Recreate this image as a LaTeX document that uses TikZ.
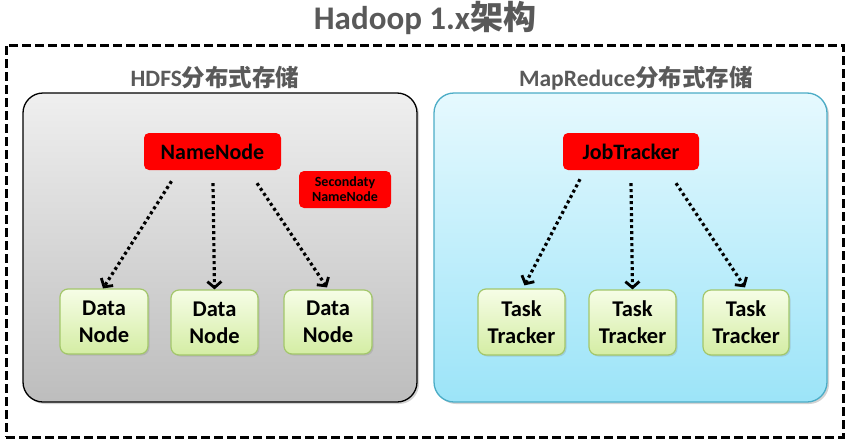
\documentclass[tikz,border=0pt]{standalone}
\usepackage{fontspec}
\setmainfont{Carlito}
\newfontfamily\cjk{Noto Sans CJK SC}
\usetikzlibrary{arrows.meta,shadows}
\definecolor{titlegray}{HTML}{595959}
\definecolor{hdfstop}{HTML}{EFEFEF}
\definecolor{hdfsbot}{HTML}{BDBDBD}
\definecolor{mrtop}{HTML}{E6F9FE}
\definecolor{mrbot}{HTML}{9CE4F8}
\definecolor{mrborder}{HTML}{4BACC6}
\definecolor{greentop}{HTML}{F6FDE6}
\definecolor{greenbot}{HTML}{D4EDA4}
\definecolor{greenborder}{HTML}{A3C76A}
\tikzset{
  panel/.style={rounded corners=20pt, line width=1.3pt, inner sep=0pt,
    drop shadow={opacity=0.35, shadow xshift=2pt, shadow yshift=-2pt}},
  master/.style={fill=red, rounded corners=5pt, inner sep=0pt,
    font=\bfseries\fontsize{22}{26}\selectfont},
  worker/.style={rounded corners=8pt, draw=greenborder, line width=1.2pt,
    top color=greentop, bottom color=greenbot, inner sep=0pt, align=center,
    font=\bfseries\fontsize{22.5}{27}\selectfont,
    drop shadow={opacity=0.25, shadow xshift=1.5pt, shadow yshift=-1.5pt}},
  heading/.style={text=titlegray, font=\bfseries\fontsize{23.5}{26}\selectfont},
  link/.style={line width=3.2pt, dash pattern=on 3pt off 3pt,
    -{Straight Barb[length=6pt,width=14pt,line width=2.8pt]}}
}
\begin{document}
\begin{tikzpicture}[x=1pt,y=-1pt]
\useasboundingbox (0,0) rectangle (850,442);
\node[text=titlegray, font=\bfseries\fontsize{33}{36}\selectfont] (title) at (425,18) {Hadoop 1.x{\cjk 架构}};
\node[draw, dash pattern=on 9pt off 4pt, line width=3pt, minimum width=837pt, minimum height=392pt, inner sep=0pt] (outer) at (424.5,241) {};
\node[heading] (hdfslabel) at (215,78) {HDFS{\cjk 分布式存储}};
\node[heading] (mrlabel) at (636,78) {MapReduce{\cjk 分布式存储}};
\node[panel, draw=black, top color=hdfstop, bottom color=hdfsbot, minimum width=394pt, minimum height=309pt] (hdfs) at (220,247.5) {};
\node[panel, draw=mrborder, top color=mrtop, bottom color=mrbot, minimum width=393pt, minimum height=309pt] (mr) at (630.5,247.5) {};
\node[master, minimum width=137pt, minimum height=37pt] (nn) at (212.5,151.5) {NameNode};
\node[fill=red, rounded corners=5pt, inner sep=0pt, minimum width=92pt, minimum height=37pt, align=center, font=\bfseries\fontsize{14}{15}\selectfont] (snn) at (345,189.5) {Secondaty\\NameNode};
\node[worker, minimum width=88pt, minimum height=65pt] (dn1) at (104,321.5) {Data\\Node};
\node[worker, minimum width=87pt, minimum height=65pt] (dn2) at (214.5,322.5) {Data\\Node};
\node[worker, minimum width=88pt, minimum height=64pt] (dn3) at (328,322) {Data\\Node};
\node[master, minimum width=136pt, minimum height=37pt] (jt) at (631,151.5) {JobTracker};
\node[worker, minimum width=87pt, minimum height=66pt] (tt1) at (521.5,322) {Task\\Tracker};
\node[worker, minimum width=87pt, minimum height=65pt] (tt2) at (632.5,322.5) {Task\\Tracker};
\node[worker, minimum width=86pt, minimum height=65pt] (tt3) at (746,322.5) {Task\\Tracker};
\draw[link] ([xshift=-41pt,yshift=-11pt]nn.south) -- ([xshift=-1pt]dn1.north);
\draw[link] ([xshift=0.5pt,yshift=-13pt]nn.south) -- (dn2.north);
\draw[link] ([xshift=44.5pt,yshift=-13pt]nn.south) -- ([xshift=-1pt,yshift=2pt]dn3.north);
\draw[link] ([xshift=-51pt,yshift=-9pt]jt.south) -- ([xshift=3pt,yshift=3pt]tt1.north);
\draw[link] ([xshift=0pt,yshift=-13pt]jt.south) -- (tt2.north);
\draw[link] ([xshift=45pt,yshift=-13pt]jt.south) -- ([xshift=-1pt,yshift=2pt]tt3.north);
\end{tikzpicture}
\end{document}
